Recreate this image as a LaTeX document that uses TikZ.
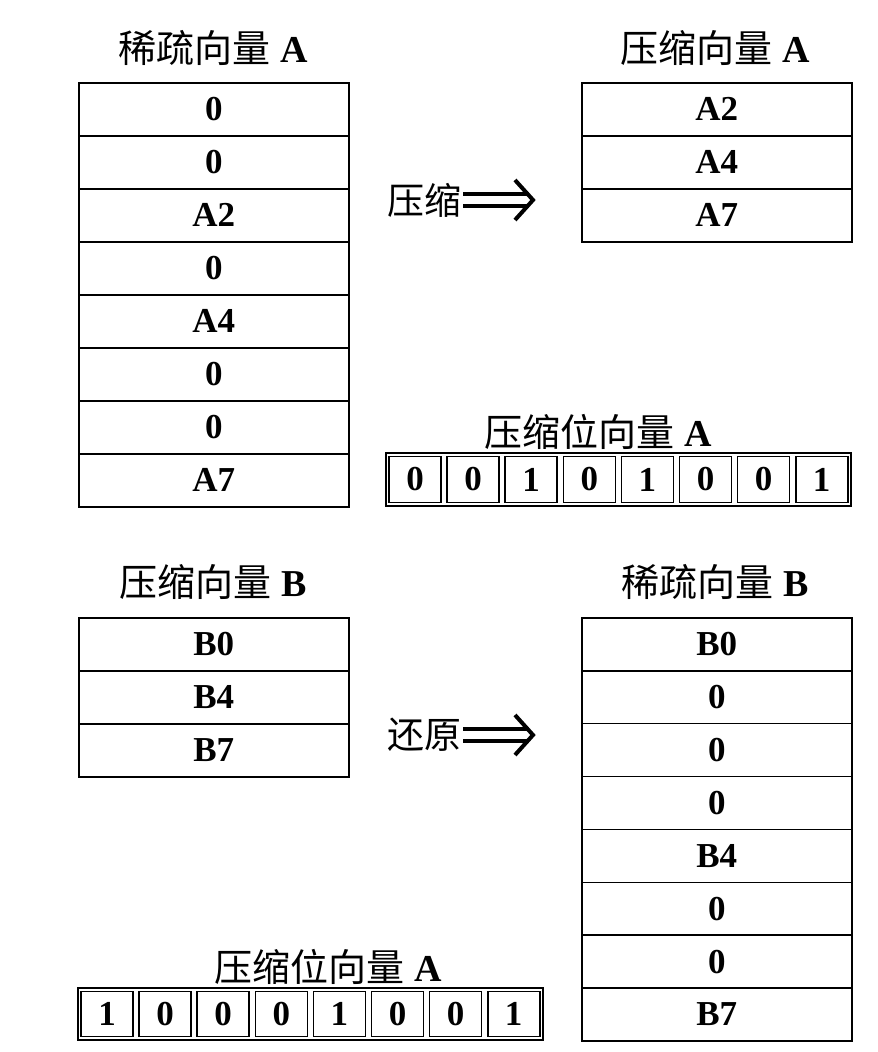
\documentclass[tikz,border=0pt]{standalone}
\usepackage{fontspec}
\setmainfont{Liberation Serif}
\newfontfamily\cjk{Noto Sans CJK SC}
\begin{document}
\begin{tikzpicture}[x=1pt,y=-1pt,
  cell/.style={draw,line width=1.6pt,minimum width=270pt,minimum height=53pt,inner sep=0,font=\fontsize{35}{35}\selectfont\bfseries,anchor=north west},
  bit/.style={draw,line width=1.6pt,minimum width=52pt,minimum height=46pt,inner sep=0,font=\fontsize{35}{35}\selectfont\bfseries},
  bitbox/.style={draw,line width=2.4pt},
  ttl/.style={font=\fontsize{38}{38}\selectfont},
  lab/.style={font=\cjk\fontsize{37}{37}\selectfont,inner sep=1pt},
  arr/.style={line width=4pt}]
\useasboundingbox (0,0) rectangle (878,1052);
% Sparse A
\node[ttl] (tA) at (213,48) {{\cjk 稀疏向量} \textbf{A}};
\foreach \t [count=\i from 0] in {0,0,A2,0,A4,0,0,A7}
  \node[cell] (sa\i) at (78,{82+53*\i}) {\t};
% compressed A
\node[ttl] (tcA) at (715,48) {{\cjk 压缩向量} \textbf{A}};
\foreach \t [count=\i from 0] in {A2,A4,A7}
  \node[cell] (ca\i) at (581,{82+53*\i}) {\t};
\node[lab,anchor=east] (l1) at (463,200) {压缩};
\coordinate (e1) at (533,194);
\draw[arr] (l1.east) ++(0,-6) -- ++(66,0) (l1.east) ++(0,6) -- ++(66,0);
\draw[arr,line join=miter] (l1.east) ++(52,-20) -- ++(18,20) -- ++(-18,20);
% bit vector A
\node[ttl] (tbA) at (598,432) {{\cjk 压缩位向量} \textbf{A}};
\draw[bitbox] (386,453) rectangle (851,506);
\foreach \t [count=\i from 0] in {0,0,1,0,1,0,0,1}
  \node[bit] (ba\i) at ({386+58.1*\i+29},479.5) {\t};
% compressed B
\node[ttl] (tcB) at (213,582) {{\cjk 压缩向量} \textbf{B}};
\foreach \t [count=\i from 0] in {B0,B4,B7}
  \node[cell] (cb\i) at (78,{617+53*\i}) {\t};
\node[lab,anchor=east] (l2) at (463,735) {还原};
\draw[arr] (l2.east) ++(0,-6) -- ++(66,0) (l2.east) ++(0,6) -- ++(66,0);
\draw[arr,line join=miter] (l2.east) ++(52,-20) -- ++(18,20) -- ++(-18,20);
% sparse B
\node[ttl] (tsB) at (715,582) {{\cjk 稀疏向量} \textbf{B}};
\foreach \t [count=\i from 0] in {B0,0,0,0,B4,0,0,B7}
  \node[cell,minimum height=52.9pt] (sb\i) at (581,{617+52.9*\i}) {\t};
% bit vector bottom
\node[ttl] (tbB) at (328,967) {{\cjk 压缩位向量} \textbf{A}};
\draw[bitbox] (78,988) rectangle (543,1040);
\foreach \t [count=\i from 0] in {1,0,0,0,1,0,0,1}
  \node[bit,minimum height=45pt] (bb\i) at ({78+58.1*\i+29},1014) {\t};
\end{tikzpicture}
\end{document}
